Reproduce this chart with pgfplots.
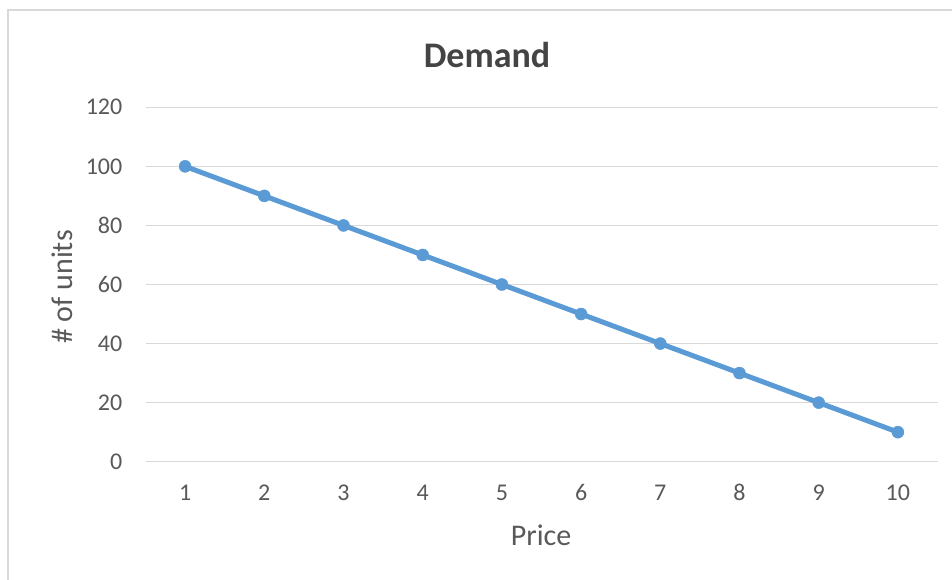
\documentclass[border=0pt]{standalone}
\usepackage{fontspec}
\setmainfont{Carlito}
\usepackage{pgfplots}
\pgfplotsset{compat=1.18}
\definecolor{lineblue}{HTML}{5B9BD5}
\definecolor{gridgray}{HTML}{D9D9D9}
\definecolor{txtgray}{HTML}{595959}
\definecolor{titlegray}{HTML}{444444}

\begin{document}
\begin{tikzpicture}[x=1pt,y=1pt]
\useasboundingbox[fill=white] (0,0) rectangle (952,580);
\draw[gridgray, line width=2pt] (8,0) -- (8,570) -- (952,570);
\begin{axis}[
  at={(145.5pt,118.3pt)}, anchor=south west,
  scale only axis, width=792pt, height=354.4pt,
  xmin=0.5, xmax=10.5, ymin=0, ymax=120,
  xtick={1,...,10}, ytick={0,20,...,120},
  axis line style={draw=none},
  major tick length=0pt,
  ymajorgrids, grid style={gridgray, line width=1.5pt},
  tick label style={font=\fontsize{24}{28}\selectfont, text=txtgray},
  xticklabel style={anchor=center, yshift=-31pt, inner sep=0pt},
  yticklabel style={anchor=east, xshift=-23pt, inner sep=0pt},
  /pgf/number format/assume math mode=true,
  clip=false,
]
\addplot[lineblue, line width=5pt, mark=*, mark size=6pt,
  mark options={solid, fill=lineblue, draw=lineblue, line width=0.5pt}]
  coordinates {
  (1,100) (2,90) (3,80) (4,70) (5,60) (6,50) (7,40) (8,30) (9,20) (10,10)
};
\end{axis}
\node[text=titlegray, font=\fontsize{36}{40}\selectfont\bfseries] at (487,525) {Demand};
\node[text=txtgray, font=\fontsize{30}{34}\selectfont] at (541,45) {Price};
\node[text=txtgray, font=\fontsize{30}{34}\selectfont, rotate=90] at (62,293) {\# of units};
\end{tikzpicture}
\end{document}
